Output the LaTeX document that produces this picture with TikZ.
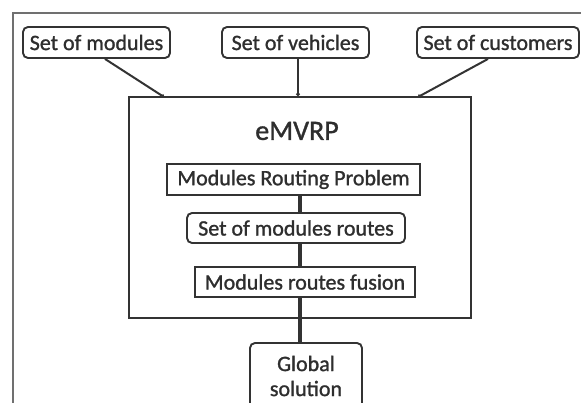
\documentclass[tikz,border=0pt]{standalone}
\usepackage{fontspec}
\setmainfont{Carlito}
\newfontfamily\heavyfont[FakeBold=1.2]{Carlito}
\usetikzlibrary{arrows.meta}
\definecolor{frame}{HTML}{707070}
\definecolor{ink}{HTML}{333333}
\definecolor{txt}{HTML}{2E2E2E}
\tikzset{
  inbox/.style={draw=ink, line width=1.9pt, rounded corners=5pt, inner sep=0pt, text=txt, font=\heavyfont\fontsize{22}{24}\selectfont},
  sqbox/.style={draw=ink, line width=1.9pt, inner sep=0pt, text=txt, font=\heavyfont\fontsize{22}{24}\selectfont},
  conn/.style={draw=ink, line width=2pt},
  thick conn/.style={draw=ink, line width=3.2pt},
}
\begin{document}
\begin{tikzpicture}[x=1pt,y=-1pt]
\useasboundingbox (0,0) rectangle (581,403);
\fill[white] (0,0) rectangle (581,403);
\draw[frame, line width=2pt] (13,410) -- (13,13) -- (590,13);
% top inputs
\node[inbox, minimum width=147pt, minimum height=31pt] (mods) at (96.5,42.5) {Set of modules};
\node[inbox, minimum width=147pt, minimum height=31pt] (veh) at (295.5,42.5) {Set of vehicles};
\node[inbox, minimum width=162pt, minimum height=31pt] (cust) at (498,42.5) {Set of customers};
% main box
\node[draw=ink, line width=2pt, minimum width=342pt, minimum height=221pt, inner sep=0pt] (emvrp) at (300,207.5) {};
\node[text=txt, font=\heavyfont\fontsize{28}{30}\selectfont, inner sep=0pt] (title) at (297,131) {eMVRP};
\node[sqbox, minimum width=253pt, minimum height=31pt] (mrp) at (293.5,179.5) {Modules Routing Problem};
\node[inbox, minimum width=218pt, minimum height=30pt] (smr) at (296,228) {Set of modules routes};
\node[sqbox, minimum width=220pt, minimum height=30pt] (fus) at (305,282) {Modules routes fusion};
\node[inbox, minimum width=112pt, minimum height=66pt, align=center, font=\heavyfont\fontsize{22}{25}\selectfont] (glob) at (306,376) {Global\\solution};
% connectors into eMVRP
\coordinate (e1) at (164,97);
\coordinate (e3) at (418,97);
\draw[conn, -{Circle[length=3.5pt]}] ([xshift=8.5pt]mods.south) -- (e1);
\draw[conn, -{Circle[length=3.5pt]}] ([xshift=2.5pt]veh.south) -- ([xshift=2.5pt]veh.south |- emvrp.north);
\draw[conn, -{Circle[length=3.5pt]}] ([xshift=-10pt]cust.south) -- (e3);
% inner chain
\draw[thick conn] (mrp.south -| emvrp.north) -- (smr.north -| emvrp.north);
\draw[thick conn] (smr.south -| emvrp.north) -- (fus.north -| emvrp.north);
\draw[thick conn] (fus.south -| emvrp.north) -- (glob.north -| emvrp.north);
\end{tikzpicture}
\end{document}
